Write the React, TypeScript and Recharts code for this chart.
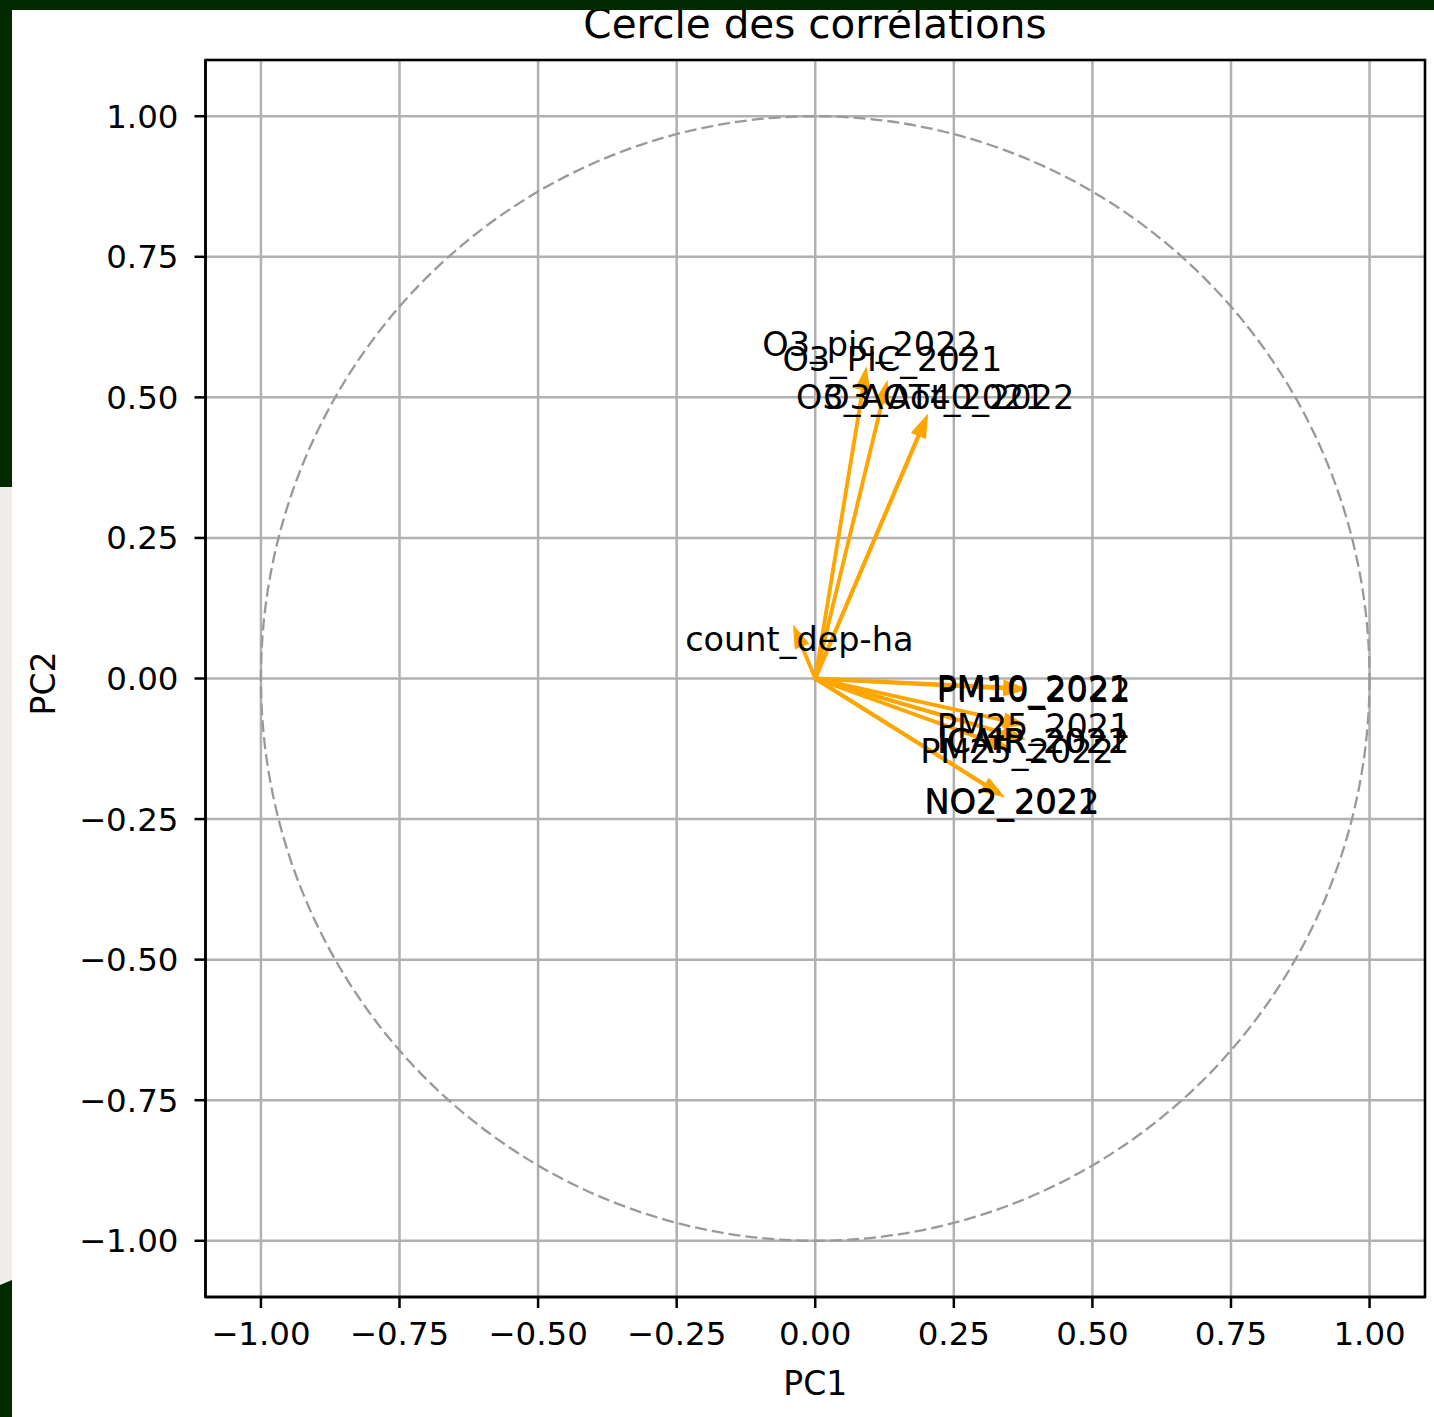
import React from 'react';
import { ScatterChart, Scatter, XAxis, YAxis, CartesianGrid, ReferenceLine, ReferenceArea, Label } from 'recharts';

// Loadings (vector ends)
const variables = [
  'O3_pic_2022', 'O3_PIC_2021', 'O3_AOT40_2022', 'O3_Aot_2021', 'count_dep-ha',
  'PM10_2022', 'PM10_2021', 'PM25_2021', 'ICAIR_2022', 'ICAIR_2021', 'PM25_2022',
  'NO2_2022', 'NO2_2021',
];
const pc1 = [0.086, 0.121, 0.188, 0.187, -0.025, 0.343, 0.342, 0.3425, 0.3425, 0.341, 0.3165, 0.309, 0.308];
const pc2 = [0.5165, 0.493, 0.435, 0.434, 0.0596, -0.018, -0.016, -0.0748, -0.098, -0.097, -0.1127, -0.191, -0.19];
const axisTicks = [-1, -0.75, -0.5, -0.25, 0, 0.25, 0.5, 0.75, 1];
const LABEL_FACTOR = 1.15;
const HEAD_WIDTH = 0.02;
const HEAD_LENGTH = 0.03;
const SHAFT_WIDTH = 0.001;

const FONT = '"DejaVu Sans", Verdana, sans-serif';
const ORANGE = '#FFA500';

const labelData = variables.map((name, i) => ({
  name,
  x: pc1[i] * LABEL_FACTOR,
  y: pc2[i] * LABEL_FACTOR,
}));

const fmt = (v: number) => (v < 0 ? '\u2212' : '') + Math.abs(v).toFixed(2);

const makeArrow = (i: number) => (p: any) => {
  const { x1, y1, x2, y2 } = p;
  const dataLen = Math.hypot(pc1[i], pc2[i]);
  const pixLen = Math.hypot(x2 - x1, y2 - y1);
  if (!pixLen) return <g />;
  const s = pixLen / dataLen;
  const ux = (x2 - x1) / pixLen;
  const uy = (y2 - y1) / pixLen;
  const nx = -uy;
  const ny = ux;
  const w = (SHAFT_WIDTH * s) / 2;
  const hw = (HEAD_WIDTH * s) / 2;
  const hl = HEAD_LENGTH * s;
  const pts: [number, number][] = [
    [x1 + nx * w, y1 + ny * w],
    [x2 + nx * w, y2 + ny * w],
    [x2 + nx * hw, y2 + ny * hw],
    [x2 + ux * hl, y2 + uy * hl],
    [x2 - nx * hw, y2 - ny * hw],
    [x2 - nx * w, y2 - ny * w],
    [x1 - nx * w, y1 - ny * w],
  ];
  return (
    <polygon
      points={pts.map((q) => q.join(',')).join(' ')}
      fill={ORANGE}
      stroke={ORANGE}
      strokeWidth={3.3}
      strokeLinejoin="miter"
    />
  );
};

const CircleShape = (p: any) => (
  <ellipse
    cx={p.x + p.width / 2}
    cy={p.y + p.height / 2}
    rx={p.width / 2}
    ry={p.height / 2}
    fill="none"
    stroke="#999999"
    strokeWidth={2.3}
    strokeDasharray="12 5"
  />
);

const FrameShape = (p: any) => (
  <rect x={p.x} y={p.y} width={p.width} height={p.height} fill="none" stroke="#000" strokeWidth={2.5} />
);

const LabelShape = (p: any) => (
  <text
    x={p.cx}
    y={p.cy}
    textAnchor="middle"
    dominantBaseline="central"
    fontFamily={FONT}
    fontSize={33.5}
    fill="#000"
  >
    {p.payload.name}
  </text>
);

export default function App() {
  return (
    <div style={{ position: 'absolute', left: 0, top: 0, width: 1434, height: 1417, background: '#fff', overflow: 'hidden' }}>
      <div
        style={{
          position: 'absolute', left: 415, top: 4, width: 800, textAlign: 'center',
          fontFamily: FONT, fontSize: 40.5, lineHeight: 1, color: '#000', whiteSpace: 'nowrap',
        }}
      >
        Cercle des corrélations
      </div>
      <div style={{ position: 'absolute', left: 0, top: 0 }}>
        <ScatterChart width={1434} height={1417} margin={{ top: 60, right: 9, bottom: 0, left: 0 }}>
          <CartesianGrid stroke="#b0b0b0" strokeWidth={2.5} />
          <XAxis
            type="number"
            dataKey="x"
            domain={[-1.1, 1.1]}
            ticks={axisTicks}
            tickFormatter={fmt}
            height={120}
            tickSize={11}
            tickMargin={14}
            axisLine={{ stroke: '#000', strokeWidth: 2.5 }}
            tickLine={{ stroke: '#000', strokeWidth: 2.5 }}
            tick={{ fill: '#000', fontSize: 32.5, fontFamily: FONT }}
            allowDataOverflow
          >
            <Label
              content={(lp: any) => {
                const vb = lp.viewBox || { x: 205.5, y: 1297, width: 1219.5 };
                return (
                  <text x={vb.x + vb.width / 2} y={vb.y + 98} textAnchor="middle" fontFamily={FONT} fontSize={33} fill="#000">
                    PC1
                  </text>
                );
              }}
            />
          </XAxis>
          <YAxis
            type="number"
            dataKey="y"
            domain={[-1.1, 1.1]}
            ticks={axisTicks}
            tickFormatter={fmt}
            width={205.5}
            tickSize={11}
            tickMargin={16}
            axisLine={{ stroke: '#000', strokeWidth: 2.5 }}
            tickLine={{ stroke: '#000', strokeWidth: 2.5 }}
            tick={{ fill: '#000', fontSize: 32.5, fontFamily: FONT }}
            allowDataOverflow
          >
            <Label
              content={(lp: any) => {
                const vb = lp.viewBox || { x: 0, y: 60, height: 1237 };
                const cx = vb.x + 55;
                const cy = vb.y + vb.height / 2 + 5;
                return (
                  <text x={cx} y={cy} transform={`rotate(-90, ${cx}, ${cy})`} textAnchor="middle" fontFamily={FONT} fontSize={33} fill="#000">
                    PC2
                  </text>
                );
              }}
            />
          </YAxis>
          <ReferenceArea x1={-1} x2={1} y1={-1} y2={1} shape={CircleShape} ifOverflow="visible" />
          {variables.map((v, i) => (
            <ReferenceLine
              key={v}
              segment={[{ x: 0, y: 0 }, { x: pc1[i], y: pc2[i] }]}
              shape={makeArrow(i)}
              ifOverflow="visible"
            />
          ))}
          <Scatter data={labelData} shape={LabelShape} isAnimationActive={false} />
          <ReferenceArea x1={-1.1} x2={1.1} y1={-1.1} y2={1.1} shape={FrameShape} ifOverflow="visible" />
        </ScatterChart>
      </div>
      <div style={{ position: 'absolute', left: 0, top: 0, width: 1434, height: 10, background: '#012a00' }} />
      <div style={{ position: 'absolute', left: 0, top: 0, width: 12, height: 487, background: '#012a00' }} />
      <div style={{ position: 'absolute', left: 0, top: 487, width: 12, height: 800, background: '#f0ede8' }} />
      <div
        style={{
          position: 'absolute', left: 0, top: 1280, width: 12, height: 137, background: '#012a00',
          clipPath: 'polygon(0 5px, 12px 0, 12px 137px, 0 137px)',
        }}
      />
    </div>
  );
}
